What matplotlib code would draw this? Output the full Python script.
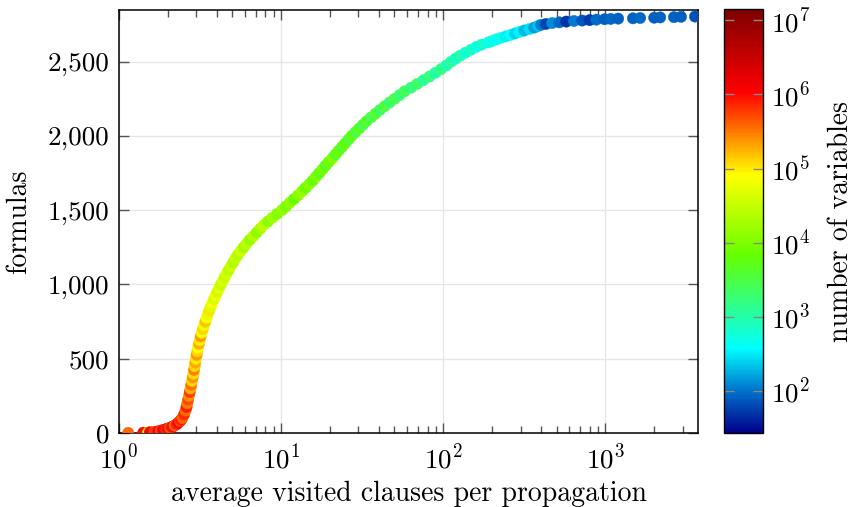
import numpy as np
import matplotlib
matplotlib.use("Agg")
import matplotlib.pyplot as plt
from matplotlib.colors import LinearSegmentedColormap, LogNorm
from matplotlib.ticker import FuncFormatter, LogLocator

plt.rcParams["font.family"] = "serif"
plt.rcParams["font.serif"] = ["cmr10"]
plt.rcParams["mathtext.fontset"] = "cm"
plt.rcParams["axes.formatter.use_mathtext"] = True
plt.rcParams["axes.unicode_minus"] = False

# formulas sorted by average visited clauses (cactus style)
formulas = [
    1, 2, 3, 5, 8, 12, 16, 20, 25, 30, 35, 40, 45, 50, 60, 70, 80, 90, 100,
    125, 150, 175, 200, 225, 250, 275, 300, 325, 350, 375, 400, 425, 450, 475, 500,
    525, 550, 575, 600, 625, 650, 675, 700, 725, 750, 775, 800, 825, 850, 875, 900,
    925, 950, 975, 1000,
    1025, 1050, 1075, 1100, 1125, 1150, 1175, 1200, 1225, 1250, 1275, 1300, 1325,
    1350, 1375, 1400, 1425, 1450, 1475, 1500,
    1525, 1550, 1575, 1600, 1625, 1650, 1675, 1700, 1725, 1750, 1775, 1800, 1825,
    1850, 1875, 1900, 1925, 1950, 1975, 2000,
    2025, 2050, 2075, 2100, 2125, 2150, 2175, 2200, 2225, 2250, 2275, 2300, 2325,
    2350, 2375, 2400, 2425, 2450, 2475, 2500,
    2520, 2540, 2560, 2580, 2600, 2615, 2630, 2640, 2650, 2660, 2670, 2680, 2690,
    2700, 2710, 2720, 2730, 2740, 2748, 2754, 2760, 2765, 2770, 2774, 2777, 2780,
    2783, 2786, 2788, 2790, 2792, 2794, 2796, 2798, 2800, 2802, 2804,
]

visited = [
    1.14, 1.41, 1.51, 1.55, 1.65, 1.75, 1.81, 1.87, 1.94, 2.00, 2.06, 2.12, 2.16,
    2.20, 2.28, 2.33, 2.38, 2.42, 2.46,
    2.52, 2.57, 2.61, 2.64, 2.67, 2.70, 2.73, 2.76, 2.79, 2.82, 2.85, 2.88, 2.90,
    2.93, 2.955, 2.98,
    3.01, 3.04, 3.07, 3.11, 3.15, 3.19, 3.24, 3.29, 3.35, 3.41, 3.47, 3.53, 3.60,
    3.68, 3.76, 3.85, 3.94, 4.04, 4.14, 4.25,
    4.37, 4.49, 4.62, 4.76, 4.91, 5.07, 5.23, 5.41, 5.63, 5.87, 6.13, 6.41, 6.74,
    7.08, 7.43, 7.81, 8.30, 8.85, 9.45, 10.1,
    10.7, 11.3, 12.0, 12.7, 13.4, 14.1, 14.9, 15.7, 16.4, 17.2, 18.0, 18.8, 19.7,
    20.7, 21.6, 22.6, 23.7, 24.8, 26.0, 27.2,
    28.7, 30.3, 31.9, 33.7, 35.9, 38.2, 40.7, 43.5, 46.7, 50.1, 53.8, 57.7, 63.3,
    69.0, 75.3, 82.2, 89.4, 96.9, 104.5, 112,
    119, 127, 137, 148, 160, 173, 190, 201, 213, 227, 243, 260, 277,
    295, 316, 340, 365, 385, 402, 430, 470, 520, 574, 640, 720, 800,
    880, 990, 1080, 1200, 1480, 1640, 2000, 2180, 2650, 2930, 3570,
]

variables = [
    3.8e5, 1.0e6, 2.4e4, 1.2e6, 6e5, 1.1e6, 5e5, 1.3e6, 7e5, 1.0e6, 4.5e5, 9e5, 1.2e6,
    4e5, 8e5, 1.1e6, 5e5, 9e5, 4e5,
    7e5, 3.5e5, 8e5, 3e5, 5e5, 2.5e5, 6e5, 1.8e5, 3.5e5, 1.3e5, 2.5e5, 1.1e5, 3e5,
    1.2e5, 2e5, 1.0e5,
    2.2e5, 1.3e5, 8e4, 1.8e5, 1.0e5, 2.2e5, 7e4, 1.3e5, 6e4, 1.5e5, 8e4, 5e4, 1.1e5,
    4.5e4, 8e4, 4e4, 7e4, 3.5e4, 6e4, 3e4,
    5e4, 2.8e4, 4.5e4, 2.5e4, 4e4, 2e4, 3.5e4, 2.2e4, 4e4, 1.8e4, 3e4, 1.5e4,
    2.5e4, 1.3e4, 2e4, 2.8e4, 1.2e4, 1.8e4, 1.0e4, 1.5e4,
    9e3, 1.3e4, 7e3, 1.1e4, 1.6e4, 8e3, 1.2e4, 6e3, 1.0e4, 5.5e3, 9e3, 5e3, 8e3,
    1.1e4, 4.5e3, 7e3, 4e3, 6.5e3, 3.5e3, 6e3,
    3.2e3, 5e3, 2.8e3, 4.5e3, 2.5e3, 4e3, 2.2e3, 3.5e3, 2e3, 3e3, 1.8e3, 2.6e3, 1.5e3,
    2.2e3, 1.2e3, 1.8e3, 1.0e3, 1.5e3, 900, 1.2e3,
    700, 1.0e3, 600, 800, 500, 700, 420, 600, 380, 500, 320, 420, 250,
    350, 200, 280, 150, 220, 110, 60, 130, 90, 50, 110, 75, 55,
    95, 80, 90, 85, 85, 90, 80, 85, 85, 80, 70,
]

# colour scale as drawn in the colour bar
cmap = LinearSegmentedColormap.from_list("vars", [
    (0.0, (0.0, 0.0, 0.55)),
    (0.10, (0.0, 0.45, 0.80)),
    (0.20, (0.0, 1.0, 1.0)),
    (0.42, (0.4, 1.0, 0.0)),
    (0.61, (1.0, 1.0, 0.0)),
    (0.805, (1.0, 0.0, 0.0)),
    (1.0, (0.5, 0.0, 0.0)),
])
norm = LogNorm(vmin=27, vmax=1.4e7)

fig = plt.figure(figsize=(8.55, 5.07), dpi=100)
ax = fig.add_axes([0.1392, 0.146, 0.6772, 0.834])
cax = fig.add_axes([0.8468, 0.1454, 0.0456, 0.8363])

sc = ax.scatter(visited, formulas, c=variables, cmap=cmap, norm=norm,
                s=66, linewidths=0.3, edgecolors="face", zorder=3)

ax.set_xscale("log")
ax.set_xlim(1, 3730)
ax.set_ylim(0, 2847)
ax.set_yticks([0, 500, 1000, 1500, 2000, 2500])
ax.yaxis.set_major_formatter(FuncFormatter(lambda v, p: f"{int(v):,}"))
ax.xaxis.set_major_locator(LogLocator(base=10, numticks=10))
ax.xaxis.set_minor_locator(LogLocator(base=10, subs=np.arange(2, 10), numticks=10))

ax.grid(True, which="major", color="#e6e6e6", linewidth=1.0, zorder=0)
ax.set_axisbelow(True)
ax.tick_params(which="both", direction="in", top=True, right=True,
               color="#555555", labelsize=19.5, width=1.0)
ax.tick_params(which="major", length=7.5)
ax.tick_params(which="minor", length=5)
ax.tick_params(axis="x", pad=8)
ax.tick_params(axis="y", pad=7)
for sp in ax.spines.values():
    sp.set_linewidth(1.1)

ax.set_xlabel("average visited clauses per propagation", fontsize=20, labelpad=5)
ax.set_ylabel("formulas", fontsize=20, labelpad=11)

cb = fig.colorbar(sc, cax=cax)
cb.ax.minorticks_off()
cb.set_ticks([1e2, 1e3, 1e4, 1e5, 1e6, 1e7])
cb.ax.tick_params(direction="in", length=7.5, color="#888888", width=1.0,
                  left=True, right=True, labelsize=19.5, pad=6)
cb.outline.set_linewidth(1.0)
cb.set_label("number of variables", fontsize=20, labelpad=12)

fig.savefig("out.png", dpi=100)
